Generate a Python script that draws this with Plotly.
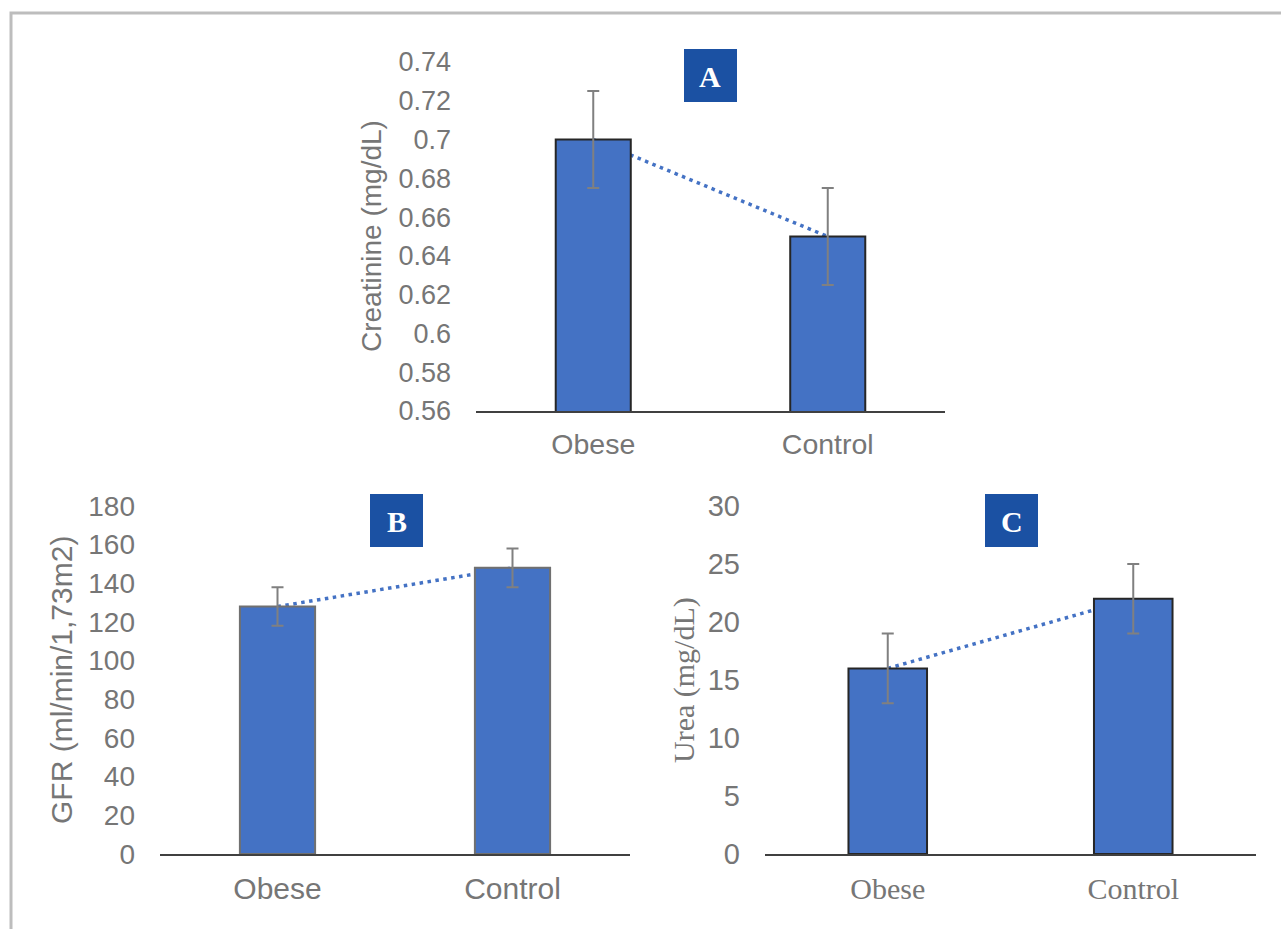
import plotly.graph_objects as go

# ---- data ----
categories = ["Obese", "Control"]

creatinine = [0.70, 0.65]
creatinine_err = [0.025, 0.025]

gfr = [128, 148]
gfr_err = [10, 10]

urea = [16, 22]
urea_err = [3, 3]

creat_ticks = [0.56, 0.58, 0.60, 0.62, 0.64, 0.66, 0.68, 0.70, 0.72, 0.74]
creat_ticktext = ["0.56", "0.58", "0.6", "0.62", "0.64", "0.66", "0.68", "0.7", "0.72", "0.74"]
gfr_ticks = [0, 20, 40, 60, 80, 100, 120, 140, 160, 180]
urea_ticks = [0, 5, 10, 15, 20, 25, 30]

# ---- style ----
W, H = 1281, 929
BAR = "#4472c4"
BADGE = "#1b51a3"
ERR = "#808080"
TXT = "#767676"
SANS = "Liberation Sans, Arial, sans-serif"
SERIF = "Liberation Serif, Times New Roman, serif"


def px_x(x):
    return x / W


def px_y(y):
    return 1 - y / H


fig = go.Figure()

panels = [
    # values, errors, outline colour, axis suffix
    (creatinine, creatinine_err, "#262626", ""),
    (gfr, gfr_err, "#707070", "2"),
    (urea, urea_err, "#262626", "3"),
]

for vals, errs, outline, sfx in panels:
    fig.add_trace(go.Bar(
        x=categories, y=vals,
        width=0.32,
        marker=dict(color=BAR, line=dict(color=outline, width=2)),
        error_y=dict(type="data", array=errs, color=ERR, thickness=2, width=6),
        xaxis="x" + sfx, yaxis="y" + sfx,
        showlegend=False,
    ))
    # dotted trend line between the two group means, behind the bars
    fig.add_shape(
        type="line", xref="x" + sfx, yref="y" + sfx,
        x0=0, y0=vals[0], x1=1, y1=vals[1],
        layer="below",
        line=dict(color=BAR, width=3.5, dash="3.5px,4.5px"),
    )


def xaxis(domain, anchor, font):
    return dict(domain=domain, anchor=anchor, tickfont=font,
                showline=True, linecolor="#404040", linewidth=2,
                showgrid=False, zeroline=False, ticks="",
                ticklabelstandoff=7, automargin=False)


def yaxis(domain, anchor, rng, tickvals, size, ticktext=None):
    d = dict(domain=domain, anchor=anchor, range=rng, tickvals=tickvals,
             tickfont=dict(family=SANS, size=size, color=TXT),
             showline=False, showgrid=False, zeroline=False, ticks="",
             ticklabelstandoff=24, automargin=False)
    if ticktext is not None:
        d["ticktext"] = ticktext
    return d


fig.update_layout(
    width=W, height=H,
    margin=dict(l=0, r=0, t=0, b=0, autoexpand=False),
    paper_bgcolor="white", plot_bgcolor="white",
    xaxis=xaxis([px_x(476), px_x(945)], "y", dict(family=SANS, size=28.5, color=TXT)),
    yaxis=yaxis([px_y(411), px_y(62)], "x", [0.56, 0.74], creat_ticks, 27, creat_ticktext),
    xaxis2=xaxis([px_x(160), px_x(630)], "y2", dict(family=SANS, size=30, color=TXT)),
    yaxis2=yaxis([px_y(854), px_y(506)], "x2", [0, 180], gfr_ticks, 28),
    xaxis3=xaxis([px_x(765), px_x(1256)], "y3", dict(family=SERIF, size=30, color=TXT)),
    yaxis3=yaxis([px_y(854), px_y(506)], "x3", [0, 30], urea_ticks, 29),
)

# outer frame
fig.add_shape(type="rect", xref="paper", yref="paper",
              x0=px_x(11), y0=px_y(940), x1=px_x(1295), y1=px_y(13),
              line=dict(color="#bdbdbd", width=3), fillcolor="rgba(0,0,0,0)",
              layer="below")

# axis titles
titles = [
    ("Creatinine (mg/dL)", 371, 236, SANS, 28),
    ("GFR (ml/min/1,73m2)", 61, 680, SANS, 30),
    ("Urea (mg/dL)", 684, 680, SERIF, 30),
]
for text, cx, cy, fam, size in titles:
    fig.add_annotation(text=text, xref="paper", yref="paper",
                       x=px_x(cx), y=px_y(cy), showarrow=False,
                       textangle=-90, xanchor="center", yanchor="middle",
                       font=dict(family=fam, size=size, color=TXT))

# panel badges
badges = [("A", 684, 49), ("B", 370, 494), ("C", 985, 494)]
for letter, bx, by in badges:
    fig.add_shape(type="rect", xref="paper", yref="paper",
                  x0=px_x(bx), y0=px_y(by + 53), x1=px_x(bx + 53), y1=px_y(by),
                  fillcolor=BADGE, line=dict(width=0))
    fig.add_annotation(text="<b>%s</b>" % letter, xref="paper", yref="paper",
                       x=px_x(bx + 26.5), y=px_y(by + 27), showarrow=False,
                       xanchor="center", yanchor="middle",
                       font=dict(family=SERIF, size=30, color="white"))

fig.write_html("out.html")
